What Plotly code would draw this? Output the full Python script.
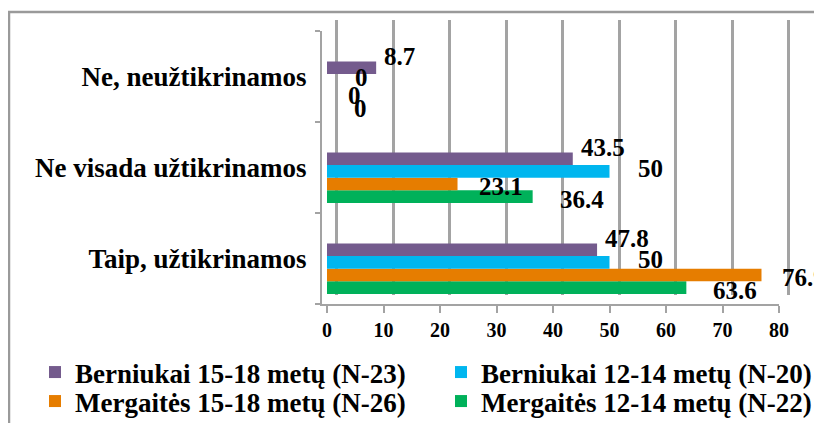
import plotly.graph_objects as go

# ---------------- data ----------------
categories = ["Taip, užtikrinamos", "Ne visada užtikrinamos", "Ne, neužtikrinamos"]
series_names = [
    "Mergaitės 12-14 metų (N-22)",
    "Mergaitės 15-18 metų (N-26)",
    "Berniukai 12-14 metų (N-20)",
    "Berniukai 15-18 metų (N-23)",
]
mergaites_12_14 = [63.6, 36.4, 0]
mergaites_15_18 = [76.9, 23.1, 0]
berniukai_12_14 = [50, 50, 0]
berniukai_15_18 = [47.8, 43.5, 8.7]
x_ticks = [0, 10, 20, 30, 40, 50, 60, 70, 80]

series_values = [mergaites_12_14, mergaites_15_18, berniukai_12_14, berniukai_15_18]

# ---------------- styles ----------------
W, H = 822, 423
PAGE_OFFSET = 8  # default body margin of the html page
colors = ["#00B15A", "#E67D00", "#00B6EF", "#745B8D"]
legend_ids = ["legend4", "legend3", "legend2", "legend"]
# legend box (left, top) in screen px for each series
legend_pos = [(441, 377), (35, 377), (441, 348), (35, 348)]
label_shift = [(25, -3), (19, -2), (26, 3), (6, 11)]  # (xshift, yshift) px
FONT = "Liberation Serif, Times New Roman, Tinos, serif"
GRID = "#a3a3a3"
bar_w = 0.139
bar_base = -0.39


def px_x(p):
    return (p - PAGE_OFFSET) / W


def px_y(p):
    return 1 - (p - PAGE_OFFSET) / H


fig = go.Figure()
# empty trace that carries the back-wall gridline subplot
fig.add_trace(go.Scatter(x=[None], y=[None], xaxis="x", yaxis="y",
                         showlegend=False, hoverinfo="skip"))

annotations = []
legends = {}
for i, (name, vals) in enumerate(zip(series_names, series_values)):
    fig.add_trace(go.Bar(
        y=categories, x=vals, name=name, orientation="h",
        xaxis="x2", yaxis="y2",
        marker=dict(color=colors[i], line=dict(width=0)),
        width=bar_w, offset=bar_base + i * bar_w,
        legend=legend_ids[i],
    ))
    lx, ly = legend_pos[i]
    legends[legend_ids[i]] = dict(
        orientation="h", x=px_x(lx), y=px_y(ly),
        xanchor="left", yanchor="top", bgcolor="rgba(0,0,0,0)",
        font=dict(family=FONT, size=27, color="black", weight="bold"))
    for j, v in enumerate(vals):
        annotations.append(dict(
            x=v, y=j + bar_base + i * bar_w + bar_w / 2,
            xref="x2", yref="y2", text=f"{v:g}", showarrow=False,
            xanchor="left", yanchor="middle",
            xshift=label_shift[i][0], yshift=label_shift[i][1],
            font=dict(family=FONT, size=25, color="black", weight="bold"),
        ))

# back wall: value 0 at 336.5 px, 5.65 px per unit
g0, gs = 336.5, 5.65
fig.update_layout(
    template="none",
    width=W, height=H,
    margin=dict(l=0, r=0, t=0, b=0, autoexpand=False),
    paper_bgcolor="white", plot_bgcolor="rgba(0,0,0,0)",
    barmode="overlay",
    xaxis=dict(domain=[px_x(g0 - 0.5 * gs), px_x(g0 + 80.5 * gs)],
               range=[-0.5, 80.5], tickvals=x_ticks, showticklabels=False,
               showgrid=True, gridcolor=GRID, gridwidth=2.5, automargin=False,
               zeroline=False, showline=False, ticks="", anchor="y",
               fixedrange=True),
    yaxis=dict(domain=[px_y(295), px_y(20)], range=[0, 1], visible=False,
               anchor="x", fixedrange=True, automargin=False),
    xaxis2=dict(domain=[px_x(322), px_x(779)], range=[-0.885, 80],
                tickvals=x_ticks, showgrid=False, zeroline=False, automargin=False,
                showline=True, linecolor=GRID, linewidth=2,
                ticks="outside", ticklen=7, tickwidth=2, tickcolor=GRID,
                tickfont=dict(family=FONT, size=20, color="black", weight="bold"),
                anchor="y2", fixedrange=True),
    yaxis2=dict(domain=[px_y(304), px_y(31)], type="category",
                categoryorder="array", categoryarray=categories, automargin=False,
                range=[-0.5, 2.5], showgrid=False, zeroline=False,
                showline=True, linecolor=GRID, linewidth=2,
                ticks="outside", tickson="boundaries", ticklen=5,
                tickwidth=2, tickcolor=GRID, ticklabelstandoff=8,
                tickfont=dict(family=FONT, size=27, color="black", weight="bold"),
                anchor="x2", fixedrange=True),
    annotations=annotations,
    shapes=[dict(type="rect", xref="paper", yref="paper",
                 x0=px_x(9), y0=px_y(12), x1=1.05, y1=-0.05,
                 line=dict(color="#9a9a9a", width=2.5), layer="below")],
    showlegend=True,
    **legends,
)

fig.write_html("out.html")
